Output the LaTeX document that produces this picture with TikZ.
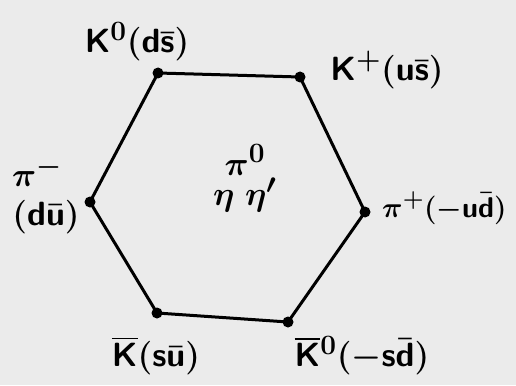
\documentclass[tikz,border=0pt]{standalone}
\usepackage{amsmath}
\begin{document}
\begin{tikzpicture}[x=1pt,y=-1pt,
  dot/.style={circle,fill=black,inner sep=0pt,minimum size=11pt},
  edge/.style={line width=3pt,line cap=round},
  lab/.style={font=\Huge\boldmath,inner sep=0pt,scale=1.35,transform shape}]
\fill[black!8] (0,0) rectangle (516,385);
\useasboundingbox (0,0) rectangle (516,385);
\node[dot] (v1) at (158,73) {};
\node[dot] (v2) at (300,77) {};
\node[dot] (v3) at (365,212) {};
\node[dot] (v4) at (288,322) {};
\node[dot] (v5) at (157,313) {};
\node[dot] (v6) at (90,202) {};
\draw[edge] (v1.center) -- (v2.center) -- (v3.center) -- (v4.center) -- (v5.center) -- (v6.center) -- cycle;
\node[lab] (l1) at (137,42) {$\mathsf{K}^{0}(\mathsf{d}\bar{\mathsf{s}})$};
\node[lab] (l2) at (387,70) {$\mathsf{K}^{+}(\mathsf{u}\bar{\mathsf{s}})$};
\node[lab] (l3a) at (37,172) {$\pi^{-}$};
\node[lab] (l3b) at (46,217) {$(\mathsf{d}\bar{\mathsf{u}})$};
\node[lab,scale=0.85,anchor=west] (l4) at (382,208) {$\pi^{+}(-\mathsf{u}\bar{\mathsf{d}})$};
\node[lab] (l5) at (156,356) {$\overline{\mathsf{K}}(\mathsf{s}\bar{\mathsf{u}})$};
\node[lab] (l6) at (362,356) {$\overline{\mathsf{K}}{}^{0}(-\mathsf{s}\bar{\mathsf{d}})$};
\node[lab] (c1) at (245,160) {$\pi^{0}$};
\node[lab] (c2) at (245,195) {$\eta\;\eta'$};
\end{tikzpicture}
\end{document}
